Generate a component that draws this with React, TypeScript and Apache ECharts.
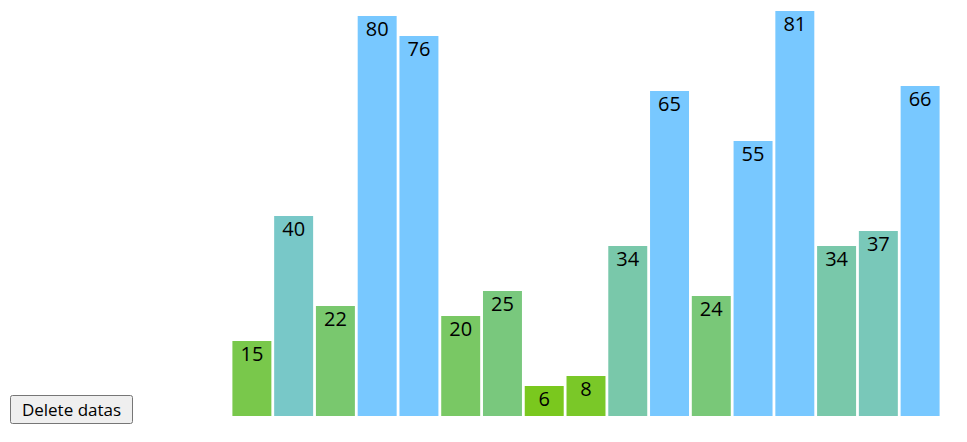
import React, { useEffect, useRef } from "react";
import * as echarts from "echarts";

const categories: string[] = [
  "1", "2", "3", "4", "5", "6", "7", "8", "9", "10", "11", "12", "13", "14", "15", "16", "17",
];
const values: number[] = [15, 40, 22, 80, 76, 20, 25, 6, 8, 34, 65, 24, 55, 81, 34, 37, 66];
const buttonLabel = "Delete datas";

export default function App() {
  const ref = useRef<HTMLDivElement>(null);

  useEffect(() => {
    document.body.style.margin = "0";
    const chart = echarts.init(ref.current!, null, { renderer: "svg" });
    chart.setOption({
      animation: false,
      grid: { left: 231, right: 26, top: 11, bottom: 26 },
      xAxis: { type: "category", data: categories, show: false },
      yAxis: { type: "value", min: 0, max: "dataMax", show: false },
      visualMap: {
        show: false,
        type: "continuous",
        min: 0,
        max: 51,
        dimension: 1,
        inRange: { color: ["rgb(122,200,0)", "rgb(120,200,255)"] },
      },
      series: [
        {
          type: "bar",
          data: values,
          barCategoryGap: "6.7%",
          label: {
            show: true,
            position: "insideTop",
            distance: 2,
            color: "#000",
            fontSize: 20,
            fontFamily: "'Open Sans', 'Noto Sans', sans-serif",
          },
        },
      ],
    });
    return () => chart.dispose();
  }, []);

  return (
    <div style={{ position: "relative", width: 967, height: 442, overflow: "hidden" }}>
      <div ref={ref} style={{ position: "absolute", left: 0, top: 0, width: 967, height: 442 }} />
      <button
        style={{
          position: "absolute",
          left: 10,
          top: 395,
          width: 123,
          height: 29,
          fontSize: 17,
          fontFamily: "'Open Sans', 'Liberation Sans', Arial, sans-serif",
          color: "#000",
          padding: 0,
        }}
      >
        {buttonLabel}
      </button>
    </div>
  );
}
